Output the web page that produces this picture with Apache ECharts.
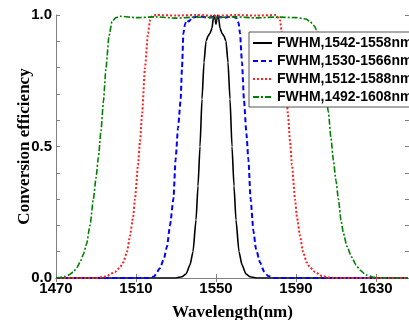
<!DOCTYPE html>
<html><head><meta charset="utf-8">
<script src="https://cdn.jsdelivr.net/npm/echarts@6/dist/echarts.min.js"></script>
<style>html,body{margin:0;padding:0;background:#fff}#c{width:409px;height:320px}</style>
</head><body><div id="c"></div>
<script>
const seriesNames = ['FWHM,1542-1558nm','FWHM,1530-1566nm','FWHM,1512-1588nm','FWHM,1492-1608nm'];
const xTicks = [1470,1510,1550,1590,1630];
const blackX = [1470,1530,1533,1535,1537,1538.5,1540,1541,1542,1543,1544,1545,1546,1547,1548,1548.7,1549.2,1549.6,1550,1550.4,1550.8,1551.3,1552,1553,1554,1555,1556,1557,1558,1559,1560,1561.5,1563,1565,1567,1570,1646];
const blackY = [0,0,0.005,0.015,0.05,0.1,0.22,0.35,0.5,0.68,0.82,0.9,0.92,0.93,0.95,0.99,1.0,0.98,0.965,0.98,1.0,0.99,0.95,0.93,0.92,0.9,0.82,0.68,0.5,0.35,0.22,0.1,0.05,0.015,0.005,0,0];
const blueX = [1470,1516,1519,1522,1524,1525.5,1527,1528.7,1529.8,1531,1532.3,1533,1533.7,1534.5,1535.3,1536.5,1538,1542,1546,1550,1554,1558,1560,1561.3,1562,1563,1564,1565.2,1566.2,1567.3,1568.7,1570,1572,1574,1576,1579,1646];
const blueY = [0,0,0.006,0.037,0.075,0.12,0.2,0.3,0.45,0.57,0.675,0.8,0.93,0.965,0.98,0.975,0.99,0.995,0.99,0.995,0.99,0.995,0.99,0.97,0.93,0.82,0.675,0.55,0.45,0.3,0.18,0.11,0.06,0.025,0.008,0,0];
const redX = [1470,1490,1495,1499.5,1502,1503.7,1505.5,1507,1508.5,1509.5,1511,1512,1513,1514.5,1516,1517,1518,1520,1530,1540,1550,1560,1570,1580,1582,1583,1584.5,1586,1587,1588,1589.5,1590.5,1592,1593.5,1595.3,1597,1599.5,1603,1606,1610,1646];
const redY = [0,0,0.006,0.023,0.04,0.06,0.1,0.16,0.23,0.3,0.43,0.52,0.62,0.8,0.93,0.98,0.995,1.0,0.998,1.0,0.997,1.0,0.998,1.0,0.98,0.93,0.8,0.62,0.52,0.43,0.3,0.23,0.16,0.1,0.06,0.04,0.023,0.008,0.002,0,0];
const greenX = [1470,1472,1474.5,1476.5,1478.7,1480.5,1482,1483.7,1485.3,1487,1488.7,1490,1491.2,1492.5,1493.7,1495,1496.5,1498,1500,1502,1510,1520,1530,1540,1550,1560,1570,1580,1590,1595,1597,1599,1600.3,1601.7,1603,1604.5,1606.2,1607.5,1608.7,1610,1611.2,1612.5,1613.7,1615.5,1617.8,1620,1622,1625,1628.7,1632,1646];
const greenY = [0.001,0.002,0.006,0.012,0.023,0.04,0.06,0.09,0.13,0.2,0.3,0.38,0.46,0.56,0.67,0.8,0.92,0.975,0.99,0.995,0.99,0.993,0.988,0.992,0.99,0.993,0.989,0.992,0.99,0.985,0.975,0.96,0.943,0.9,0.82,0.74,0.63,0.53,0.447,0.37,0.3,0.22,0.17,0.12,0.08,0.05,0.03,0.012,0.003,0,0];

const zip = (xs, ys) => xs.map((x, i) => [x, ys[i]]);
const axisColor = '#808080';
const chart = echarts.init(document.getElementById('c'), null, {renderer: 'canvas'});
const mkLine = (name, xs, ys, color, type, width) => ({
  name, type: 'line', data: zip(xs, ys), showSymbol: false, symbol: 'none',
  smooth: 0.2, smoothMonotone: 'x', animation: false,
  lineStyle: {color, type, width}, itemStyle: {color: 'rgba(0,0,0,0)'}
});
chart.setOption({
  animation: false,
  backgroundColor: '#fff',
  grid: {left: 56, top: 15, right: 0, bottom: 42, containLabel: false, outerBoundsMode: 'none'},
  legend: {
    orient: 'vertical', left: 249, top: 32,
    itemWidth: 19, itemHeight: 14, itemGap: 4,
    padding: [4, 0, 3, 3],
    itemStyle: {opacity: 0},
    backgroundColor: '#fff', borderColor: '#555', borderWidth: 1,
    textStyle: {fontFamily: 'Liberation Sans, Arial', fontWeight: 'bold', fontSize: 14, color: '#000'},
    data: seriesNames
  },
  xAxis: [{
    type: 'value', min: 1470, max: 1646.5, interval: 40,
    name: 'Wavelength(nm)', nameLocation: 'middle', nameGap: 26,
    nameTextStyle: {fontFamily: 'Liberation Serif, Times New Roman', fontWeight: 'bold', fontSize: 17, color: '#000'},
    axisLine: {show: true, lineStyle: {color: axisColor, width: 1}},
    axisTick: {show: true, inside: true, length: 4, lineStyle: {color: axisColor}},
    axisLabel: {showMaxLabel: false, margin: 3, fontFamily: 'Liberation Sans, Arial', fontWeight: 'bold', fontSize: 15, color: '#000',
      formatter: v => String(v)},
    splitLine: {show: false}
  }, {
    type: 'value', position: 'top', min: 1470, max: 1646.5, interval: 40,
    axisLine: {show: true, lineStyle: {color: axisColor, width: 1}},
    axisTick: {show: true, inside: true, length: 4, lineStyle: {color: axisColor}},
    axisLabel: {show: false}, splitLine: {show: false}
  }],
  yAxis: [{
    type: 'value', min: 0, max: 1, interval: 0.1,
    name: 'Conversion efficiency', nameLocation: 'middle', nameGap: 23, nameMoveOverlap: false,
    nameTextStyle: {fontFamily: 'Liberation Serif, Times New Roman', fontWeight: 'bold', fontSize: 17, color: '#000'},
    axisLine: {show: true, lineStyle: {color: axisColor, width: 1}},
    axisTick: {show: true, inside: true, length: 4, lineStyle: {color: axisColor}},
    axisLabel: {margin: 4, fontFamily: 'Liberation Sans, Arial', fontWeight: 'bold', fontSize: 15, color: '#000',
      formatter: v => (Math.round(v * 10) % 5 === 0) ? v.toFixed(1) : ''},
    splitLine: {show: false}
  }, {
    type: 'value', position: 'right', min: 0, max: 1, interval: 0.1,
    axisLine: {show: true, lineStyle: {color: axisColor, width: 1}},
    axisTick: {show: true, inside: true, length: 4, lineStyle: {color: axisColor}},
    axisLabel: {show: false}, splitLine: {show: false}
  }],
  series: [
    mkLine(seriesNames[0], blackX, blackY, '#000000', 'solid', 1.6),
    mkLine(seriesNames[1], blueX, blueY, '#0000ff', [5, 3], 2),
    mkLine(seriesNames[2], redX, redY, '#ff2020', [2, 2], 2),
    mkLine(seriesNames[3], greenX, greenY, '#008000', [6, 2, 2, 2], 1.6)
  ]
});
</script></body></html>
